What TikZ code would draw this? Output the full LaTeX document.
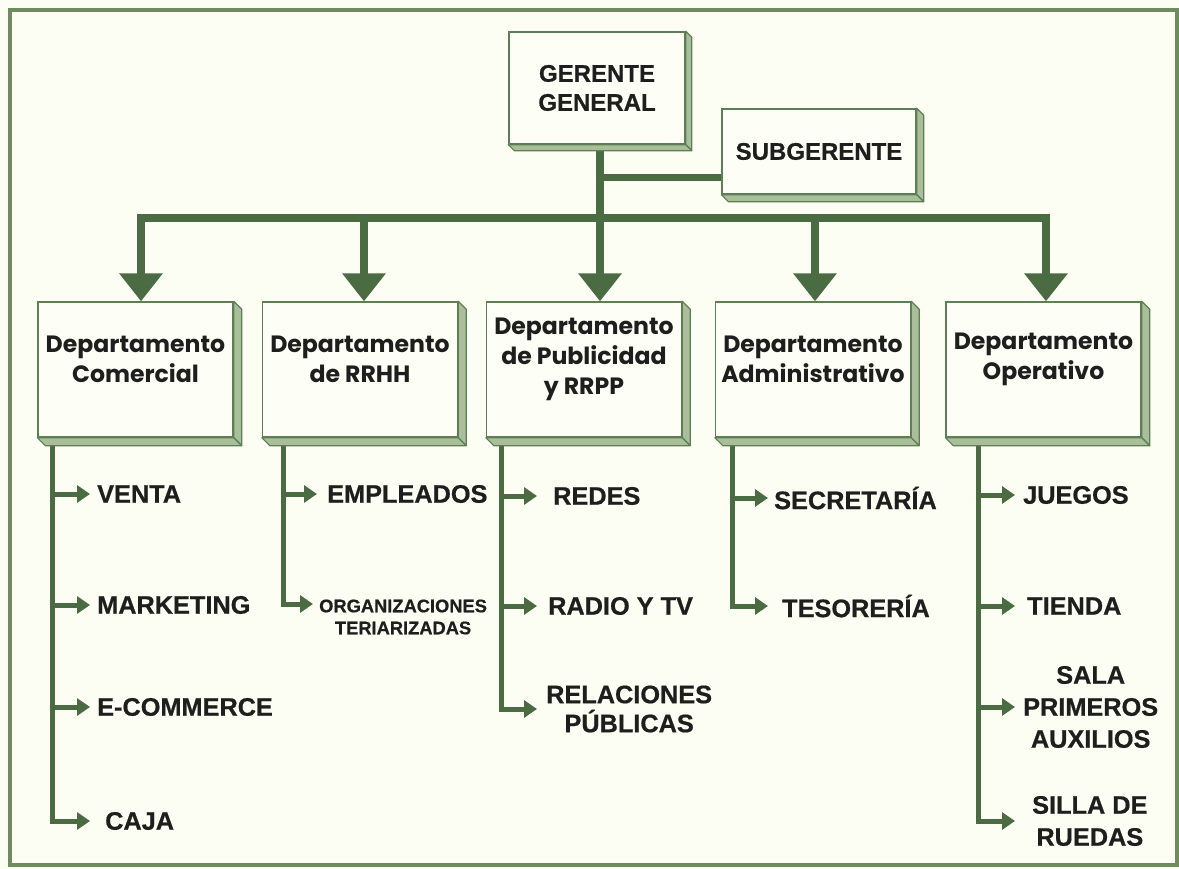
\documentclass[tikz,border=0pt]{standalone}
\usepackage{fontspec}
\setmainfont{Liberation Sans}[BoldFeatures={FakeBold=0.6}]
\newfontfamily\deptfont{Poppins}
\usetikzlibrary{arrows.meta,calc}
\definecolor{bgc}{HTML}{FDFEF3}
\definecolor{framec}{HTML}{6F8C60}
\definecolor{darkgreen}{HTML}{4B6B43}
\definecolor{boxline}{HTML}{5E7F55}
\definecolor{sidegreen}{HTML}{A9BE99}
\definecolor{frontfill}{HTML}{FDFEF5}
\definecolor{txt}{HTML}{1E1E1E}
\newcommand{\extrude}[2]{%
  \filldraw[sidefill] (#1.north east) -- ++(#2,-#2) -- ($(#1.south east)+(#2,-#2)$) -- (#1.south east) -- cycle;
  \filldraw[sidefill] (#1.south west) -- ++(#2,-#2) -- ($(#1.south east)+(#2,-#2)$) -- (#1.south east) -- cycle;}
\tikzset{
  box/.style={draw=boxline, line width=1.4pt, fill=frontfill, inner sep=0pt, align=center, text=txt},
  topbox/.style={box, font=\fontsize{24}{29}\selectfont\bfseries},
  deptbox/.style={box, minimum width=195pt, minimum height=135pt},
  sidefill/.style={fill=sidegreen, draw=boxline, line width=1.2pt, line join=round},
  bigline/.style={draw=darkgreen, line width=8pt},
  bigarrow/.style={draw=darkgreen, line width=8pt, -{Triangle[width=42pt,length=28pt]}},
  childarrow/.style={draw=darkgreen, line width=5pt, -{Triangle[width=17pt,length=13pt]}},
  depttext/.style={font=\deptfont\fontsize{23.6}{30}\selectfont\bfseries, text=txt, align=center, inner sep=0pt},
  ctext/.style={font=\fontsize{25.3}{32}\selectfont\bfseries, text=txt, align=center, inner sep=0pt, anchor=west},
  stext/.style={font=\fontsize{18.3}{22}\selectfont\bfseries, text=txt, align=center, inner sep=0pt, anchor=west}
}
\begin{document}
\begin{tikzpicture}[x=1pt,y=-1pt]
\useasboundingbox (0,0) rectangle (1179,869);
\fill[bgc] (0,0) rectangle (1179,869);
\draw[framec, line width=3.5pt] (10,10) rectangle (1177,865);

% coordinates for the bus
\coordinate (barL) at (137,218);
\coordinate (barR) at (1050,218);
\coordinate (t1) at (141,218);
\coordinate (t2) at (364,218);
\coordinate (t3) at (600,218);
\coordinate (t4) at (815,218);
\coordinate (t5) at (1046,218);
\coordinate (sb) at (600,178);
\coordinate (v1) at (52,445);
\coordinate (v2) at (283,445);
\coordinate (v3) at (501,445);
\coordinate (v4) at (732,445);
\coordinate (v5) at (978,445);

% boxes (positions)
\path (597,88) node[topbox, minimum width=176pt, minimum height=112pt] (g) {GERENTE\\GENERAL};
\path (819,151.5) node[topbox, minimum width=194pt, minimum height=85pt, draw=none, fill=none, text opacity=0] (s0) {SUBGERENTE};
\path (135.5,369.5) node[deptbox, draw=none, fill=none] (d1) {};
\path (360,369.5) node[deptbox, draw=none, fill=none] (d2) {};
\path (584,369.5) node[deptbox, draw=none, fill=none] (d3) {};
\path (813,369.5) node[deptbox, draw=none, fill=none] (d4) {};
\path (1043.5,369.5) node[deptbox, draw=none, fill=none] (d5) {};

% connectors top
\draw[bigline] (barL) -- (barR);
\draw[bigline, line width=7pt] (sb) -- (sb -| s0.west);
\draw[bigarrow] (g.south -| t3) -- (t3 |- d3.north);
\draw[bigarrow] ([yshift=4pt]t1) -- (t1 |- d1.north);
\draw[bigarrow] ([yshift=4pt]t2) -- (t2 |- d2.north);
\draw[bigarrow] ([yshift=4pt]t4) -- (t4 |- d4.north);
\draw[bigarrow] ([yshift=4pt]t5) -- (t5 |- d5.north);

% child labels
\node[ctext] (c11) at (97,494) {VENTA};
\node[ctext] (c12) at (97,605) {MARKETING};
\node[ctext] (c13) at (97,707) {E-COMMERCE};
\node[ctext] (c14) at (105,821) {CAJA};
\node[ctext] (c21) at (327,494) {EMPLEADOS};
\node[stext] (c22) at (319,617) {ORGANIZACIONES\\TERIARIZADAS};
\node[ctext] (c31) at (553,496) {REDES};
\node[ctext] (c32) at (548,606) {RADIO Y TV};
\node[ctext, font=\fontsize{25.3}{29}\selectfont\bfseries] (c33) at (546,709) {RELACIONES\\PÚBLICAS};
\node[ctext] (c41) at (774,498) {SECRETARÍA};
\node[ctext] (c42) at (782,606) {TESORERÍA};
\node[ctext] (c51) at (1023,495) {JUEGOS};
\node[ctext] (c52) at (1027,606) {TIENDA};
\node[ctext] (c53) at (1023,707) {SALA\\PRIMEROS\\AUXILIOS};
\node[ctext] (c54) at (1032,821) {SILLA DE\\RUEDAS};

% child connectors
\draw[childarrow, shorten >=7pt] (v1 |- c11) -- (c11.west);
\draw[childarrow, shorten >=7pt] (v1 |- c12) -- (c12.west);
\draw[childarrow, shorten >=7pt] (v1 |- c13) -- (c13.west);
\draw[childarrow, shorten >=15pt] (v1 |- d1.south) |- (c14.west);
\draw[childarrow, shorten >=10pt] (v2 |- c21) -- (c21.west);
\draw[childarrow, shorten >=6pt] (v2 |- d2.south) |- ([yshift=13pt]c22.west);
\draw[childarrow, shorten >=16pt] (v3 |- c31) -- (c31.west);
\draw[childarrow, shorten >=11pt] (v3 |- c32) -- (c32.west);
\draw[childarrow, shorten >=9pt] (v3 |- d3.south) |- (c33.west);
\draw[childarrow, shorten >=6pt] (v4 |- c41) -- (c41.west);
\draw[childarrow, shorten >=14pt] (v4 |- d4.south) |- (c42.west);
\draw[childarrow, shorten >=8pt] (v5 |- c51) -- (c51.west);
\draw[childarrow, shorten >=12pt] (v5 |- c52) -- (c52.west);
\draw[childarrow, shorten >=8pt] (v5 |- c53) -- (c53.west);
\draw[childarrow, shorten >=17pt] (v5 |- d5.south) |- (c54.west);

% boxes drawn on top
\node[topbox, minimum width=176pt, minimum height=112pt] (g2) at (g) {GERENTE\\GENERAL};
\extrude{g2}{6pt}
\node[topbox, minimum width=194pt, minimum height=85pt] (s) at (s0) {SUBGERENTE};
\extrude{s}{7pt}
\foreach \n in {d1,d2,d3,d4,d5}{
  \node[deptbox] (\n b) at (\n) {};
  \extrude{\n b}{8pt}
}
\node[depttext] (d1t) at ($(d1)+(0,10pt)$) {Departamento\\Comercial};
\node[depttext] (d2t) at ($(d2)+(0,10pt)$) {Departamento\\de RRHH};
\node[depttext] (d3t) at ($(d3)+(0,10pt)$) {Departamento\\de Publicidad\\y RRPP};
\node[depttext] (d4t) at ($(d4)+(0,10pt)$) {Departamento\\Administrativo};
\node[depttext] (d5t) at ($(d5)+(0,10pt)$) {Departamento\\Operativo};
\end{tikzpicture}
\end{document}
